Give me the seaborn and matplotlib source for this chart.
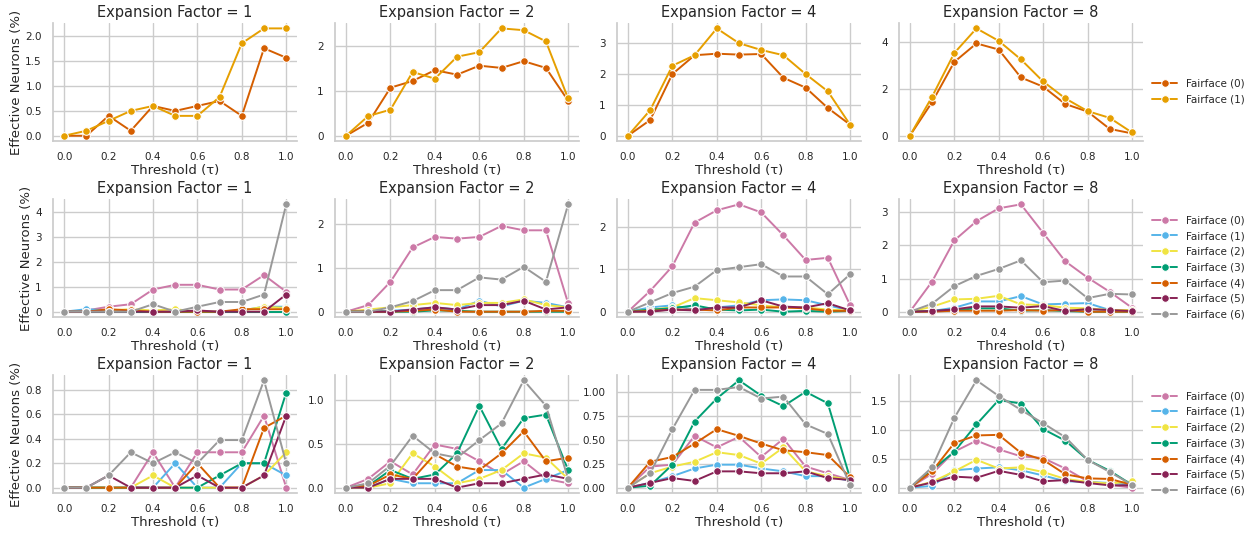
import matplotlib
matplotlib.use("Agg")
import matplotlib.pyplot as plt
import seaborn as sns
import pandas as pd

thresholds = [0.0, 0.1, 0.2, 0.3, 0.4, 0.5, 0.6, 0.7, 0.8, 0.9, 1.0]
expansion_factors = [1, 2, 4, 8]

labels2 = ["Fairface (0)", "Fairface (1)"]
labels7 = [f"Fairface ({i})" for i in range(7)]

colors2 = ["#D55E00", "#E69F00"]
colors7 = ["#CC79A7", "#56B4E9", "#F0E442", "#009E73", "#D55E00", "#882255", "#999999"]

# Row 1 (two groups)
r1_ef1 = [
    [0.0, 0.0, 0.4, 0.1, 0.6, 0.5, 0.6, 0.7, 0.4, 1.76, 1.57],
    [0.0, 0.1, 0.3, 0.5, 0.6, 0.4, 0.4, 0.78, 1.86, 2.16, 2.16],
]
r1_ef2 = [
    [0.0, 0.29, 1.07, 1.22, 1.46, 1.36, 1.56, 1.51, 1.66, 1.51, 0.78],
    [0.0, 0.44, 0.58, 1.42, 1.27, 1.76, 1.86, 2.39, 2.35, 2.10, 0.83],
]
r1_ef4 = [
    [0.0, 0.51, 2.0, 2.61, 2.66, 2.63, 2.65, 1.88, 1.56, 0.90, 0.36],
    [0.0, 0.83, 2.27, 2.61, 3.48, 3.0, 2.78, 2.61, 2.0, 1.44, 0.36],
]
r1_ef8 = [
    [0.0, 1.43, 3.14, 3.93, 3.67, 2.48, 2.09, 1.35, 1.03, 0.29, 0.10],
    [0.0, 1.66, 3.52, 4.57, 4.04, 3.25, 2.31, 1.59, 1.05, 0.76, 0.14],
]

# Row 2 (seven groups)
r2_ef1 = [
    [0.0, 0.05, 0.2, 0.3, 0.89, 1.08, 1.08, 0.89, 0.89, 1.47, 0.8],
    [0.0, 0.1, 0.05, 0.0, 0.0, 0.0, 0.0, 0.0, 0.05, 0.2, 0.2],
    [0.0, 0.0, 0.05, 0.1, 0.05, 0.1, 0.0, 0.0, 0.05, 0.2, 0.15],
    [0.0, 0.0, 0.0, 0.0, 0.0, 0.0, 0.0, 0.0, 0.0, 0.0, 0.0],
    [0.0, 0.0, 0.1, 0.05, 0.0, 0.0, 0.0, 0.0, 0.1, 0.1, 0.1],
    [0.0, 0.0, 0.0, 0.0, 0.0, 0.0, 0.05, 0.0, 0.0, 0.0, 0.69],
    [0.0, 0.0, 0.0, 0.0, 0.3, 0.0, 0.2, 0.39, 0.39, 0.69, 4.31],
]
r2_ef2 = [
    [0.0, 0.15, 0.68, 1.46, 1.70, 1.66, 1.70, 1.95, 1.85, 1.85, 0.19],
    [0.0, 0.0, 0.02, 0.05, 0.1, 0.05, 0.25, 0.12, 0.25, 0.2, 0.1],
    [0.0, 0.05, 0.1, 0.15, 0.2, 0.15, 0.2, 0.2, 0.28, 0.15, 0.1],
    [0.0, 0.0, 0.0, 0.0, 0.03, 0.02, 0.0, 0.0, 0.0, 0.0, 0.0],
    [0.0, 0.0, 0.0, 0.02, 0.05, 0.0, 0.0, 0.0, 0.0, 0.02, 0.02],
    [0.0, 0.0, 0.0, 0.05, 0.1, 0.05, 0.15, 0.15, 0.25, 0.05, 0.1],
    [0.0, 0.0, 0.1, 0.24, 0.49, 0.49, 0.78, 0.73, 1.02, 0.68, 2.44],
]
r2_ef4 = [
    [0.0, 0.49, 1.07, 2.10, 2.39, 2.53, 2.34, 1.80, 1.22, 1.27, 0.16],
    [0.0, 0.1, 0.15, 0.05, 0.1, 0.15, 0.27, 0.29, 0.27, 0.15, 0.03],
    [0.0, 0.05, 0.1, 0.32, 0.27, 0.22, 0.15, 0.1, 0.1, 0.05, 0.03],
    [0.0, 0.05, 0.08, 0.15, 0.05, 0.03, 0.05, 0.0, 0.02, 0.0, 0.02],
    [0.0, 0.02, 0.05, 0.05, 0.03, 0.1, 0.1, 0.1, 0.08, 0.02, 0.02],
    [0.0, 0.0, 0.05, 0.03, 0.1, 0.1, 0.27, 0.12, 0.1, 0.2, 0.03],
    [0.0, 0.22, 0.44, 0.59, 0.98, 1.05, 1.12, 0.83, 0.83, 0.41, 0.88],
]
r2_ef8 = [
    [0.0, 0.91, 2.15, 2.73, 3.12, 3.24, 2.38, 1.52, 1.03, 0.6, 0.12],
    [0.0, 0.02, 0.12, 0.31, 0.31, 0.47, 0.22, 0.24, 0.26, 0.05, 0.05],
    [0.0, 0.15, 0.37, 0.39, 0.48, 0.22, 0.2, 0.12, 0.1, 0.05, 0.05],
    [0.0, 0.02, 0.05, 0.1, 0.1, 0.03, 0.05, 0.02, 0.0, 0.0, 0.0],
    [0.0, 0.0, 0.03, 0.03, 0.03, 0.05, 0.03, 0.05, 0.0, 0.0, 0.0],
    [0.0, 0.02, 0.07, 0.16, 0.16, 0.12, 0.17, 0.02, 0.08, 0.05, 0.02],
    [0.0, 0.24, 0.77, 1.08, 1.29, 1.55, 0.89, 0.94, 0.41, 0.54, 0.52],
]

# Row 3 (seven groups)
r3_ef1 = [
    [0.0, 0.0, 0.0, 0.0, 0.29, 0.0, 0.29, 0.29, 0.29, 0.59, 0.0],
    [0.0, 0.0, 0.0, 0.0, 0.0, 0.2, 0.0, 0.0, 0.2, 0.2, 0.1],
    [0.0, 0.0, 0.0, 0.0, 0.1, 0.0, 0.0, 0.0, 0.0, 0.1, 0.29],
    [0.0, 0.0, 0.0, 0.0, 0.0, 0.0, 0.0, 0.1, 0.2, 0.2, 0.78],
    [0.0, 0.0, 0.0, 0.0, 0.0, 0.0, 0.2, 0.0, 0.0, 0.49, 0.59],
    [0.0, 0.0, 0.1, 0.0, 0.0, 0.0, 0.1, 0.0, 0.0, 0.1, 0.59],
    [0.0, 0.0, 0.1, 0.29, 0.2, 0.29, 0.2, 0.39, 0.39, 0.88, 0.2],
]
r3_ef2 = [
    [0.0, 0.1, 0.3, 0.15, 0.49, 0.44, 0.3, 0.15, 0.3, 0.1, 0.05],
    [0.0, 0.0, 0.1, 0.05, 0.05, 0.05, 0.2, 0.2, 0.0, 0.1, 0.2],
    [0.0, 0.0, 0.05, 0.39, 0.24, 0.05, 0.1, 0.2, 0.39, 0.34, 0.1],
    [0.0, 0.02, 0.2, 0.1, 0.15, 0.39, 0.93, 0.44, 0.79, 0.83, 0.2],
    [0.0, 0.02, 0.15, 0.1, 0.38, 0.24, 0.2, 0.39, 0.64, 0.3, 0.34],
    [0.0, 0.0, 0.1, 0.1, 0.1, 0.0, 0.05, 0.05, 0.1, 0.15, 0.1],
    [0.0, 0.05, 0.25, 0.59, 0.39, 0.34, 0.54, 0.73, 1.22, 0.93, 0.1],
]
r3_ef4 = [
    [0.0, 0.22, 0.24, 0.54, 0.42, 0.53, 0.32, 0.51, 0.22, 0.15, 0.08],
    [0.0, 0.05, 0.12, 0.2, 0.24, 0.24, 0.2, 0.17, 0.12, 0.12, 0.07],
    [0.0, 0.15, 0.22, 0.27, 0.37, 0.34, 0.25, 0.42, 0.17, 0.12, 0.08],
    [0.0, 0.02, 0.24, 0.69, 0.93, 1.12, 0.96, 0.85, 1.0, 0.88, 0.1],
    [0.0, 0.27, 0.32, 0.46, 0.61, 0.54, 0.46, 0.39, 0.37, 0.34, 0.11],
    [0.0, 0.05, 0.1, 0.07, 0.17, 0.17, 0.15, 0.15, 0.17, 0.1, 0.08],
    [0.0, 0.15, 0.61, 1.02, 1.02, 1.05, 0.93, 0.95, 0.66, 0.56, 0.03],
]
r3_ef8 = [
    [0.0, 0.24, 0.62, 0.81, 0.66, 0.54, 0.51, 0.33, 0.11, 0.05, 0.0],
    [0.0, 0.03, 0.3, 0.33, 0.35, 0.3, 0.21, 0.11, 0.1, 0.08, 0.05],
    [0.0, 0.1, 0.28, 0.48, 0.33, 0.35, 0.27, 0.15, 0.1, 0.07, 0.11],
    [0.0, 0.3, 0.62, 1.09, 1.51, 1.45, 1.01, 0.81, 0.48, 0.29, 0.05],
    [0.0, 0.28, 0.77, 0.9, 0.91, 0.6, 0.48, 0.23, 0.16, 0.15, 0.05],
    [0.0, 0.09, 0.19, 0.17, 0.29, 0.22, 0.11, 0.13, 0.08, 0.04, 0.04],
    [0.0, 0.35, 1.2, 1.85, 1.58, 1.34, 1.11, 0.87, 0.48, 0.27, 0.05],
]

rows = [
    ([r1_ef1, r1_ef2, r1_ef4, r1_ef8], labels2, colors2),
    ([r2_ef1, r2_ef2, r2_ef4, r2_ef8], labels7, colors7),
    ([r3_ef1, r3_ef2, r3_ef4, r3_ef8], labels7, colors7),
]

sns.set_theme(style="whitegrid")
plt.rcParams["font.family"] = ["DejaVu Sans"]

fig, axes = plt.subplots(3, 4, figsize=(12.51, 5.33), dpi=100)
fig.subplots_adjust(left=0.0424, right=0.9137, top=0.9568, bottom=0.075,
                    wspace=0.154, hspace=0.49)

for r, (panels, labels, colors) in enumerate(rows):
    palette = dict(zip(labels, colors))
    for c, (ef, series) in enumerate(zip(expansion_factors, panels)):
        ax = axes[r, c]
        records = []
        for lab, vals in zip(labels, series):
            for t, v in zip(thresholds, vals):
                records.append({"Threshold": t, "value": v, "group": lab})
        df = pd.DataFrame(records)
        sns.lineplot(data=df, x="Threshold", y="value", hue="group",
                     hue_order=labels, palette=palette, marker="o",
                     markersize=5.5, linewidth=1.4, ax=ax, legend=(c == 3))
        ax.set_title(f"Expansion Factor = {ef}", fontsize=10.5, pad=4)
        ax.set_xlabel("Threshold (τ)", fontsize=9.5, labelpad=1)
        ax.set_ylabel("Effective Neurons (%)" if c == 0 else "", fontsize=9.5, labelpad=2)
        ax.set_xticks([0.0, 0.2, 0.4, 0.6, 0.8, 1.0])
        ax.tick_params(labelsize=7.5, pad=2)
        sns.despine(ax=ax)
        if c == 3:
            ax.legend(loc="center left", bbox_to_anchor=(1.0, 0.42),
                      frameon=False, fontsize=7.5, title=None,
                      handlelength=2.4, handletextpad=0.8, labelspacing=0.55)

fig.savefig("out.png", dpi=100)
